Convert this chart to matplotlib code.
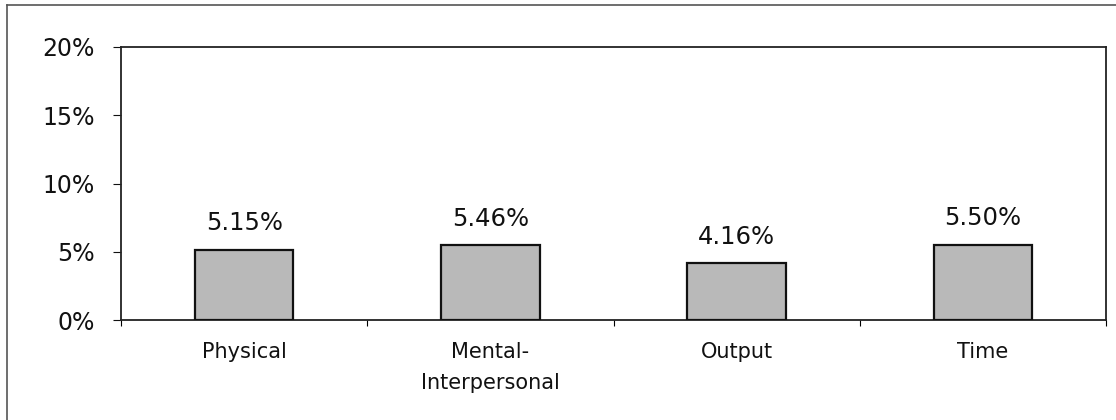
import matplotlib
matplotlib.use("Agg")
import matplotlib.pyplot as plt
from matplotlib.lines import Line2D
from matplotlib.ticker import FuncFormatter

categories = ["Physical", "Mental-\nInterpersonal", "Output", "Time"]
values = [5.15, 5.46, 4.16, 5.50]
yticks = [0, 5, 10, 15, 20]

plt.rcParams['font.family'] = ['DejaVu Sans']

W, H = 1116, 420
fig = plt.figure(figsize=(W / 100, H / 100), dpi=100)
ax = fig.add_axes([121 / W, 1 - 320 / H, (1106 - 121) / W, (320 - 47) / H])

x = list(range(len(categories)))
ax.bar(x, values, width=0.4, color="#b9b9b9", edgecolor="#111111", linewidth=1.6, zorder=3)
for xi, v in zip(x, values):
    ax.annotate(f"{v:.2f}%", (xi, v), xytext=(0, 10.5), textcoords="offset points",
                ha="center", va="bottom", fontsize=17.5, color="#111111")

ax.set_xlim(-0.5, len(categories) - 0.5)
ax.set_ylim(0, 20)
ax.set_yticks(yticks)
ax.yaxis.set_major_formatter(FuncFormatter(lambda v, p: f"{v:.0f}%"))
ax.tick_params(axis='y', labelsize=17, length=6, width=0.8, pad=13, colors="#111111")
ax.set_xticks(x)
ax.set_xticklabels(categories, fontsize=15, linespacing=1.65, color="#111111")
ax.tick_params(axis='x', length=0, pad=16)
ax.set_xticks([i + 0.5 for i in range(-1, len(categories))], minor=True)
ax.tick_params(axis='x', which='minor', length=4, width=0.8)
for s in ax.spines.values():
    s.set_color("#222222")
    s.set_linewidth(1.3)

fig.add_artist(Line2D([7 / W, 1], [1 - 5 / H, 1 - 5 / H], transform=fig.transFigure,
                      color="#555555", linewidth=1.2))
fig.add_artist(Line2D([7 / W, 7 / W], [0, 1 - 5 / H], transform=fig.transFigure,
                      color="#555555", linewidth=1.2))

fig.savefig("out.png", dpi=100)
